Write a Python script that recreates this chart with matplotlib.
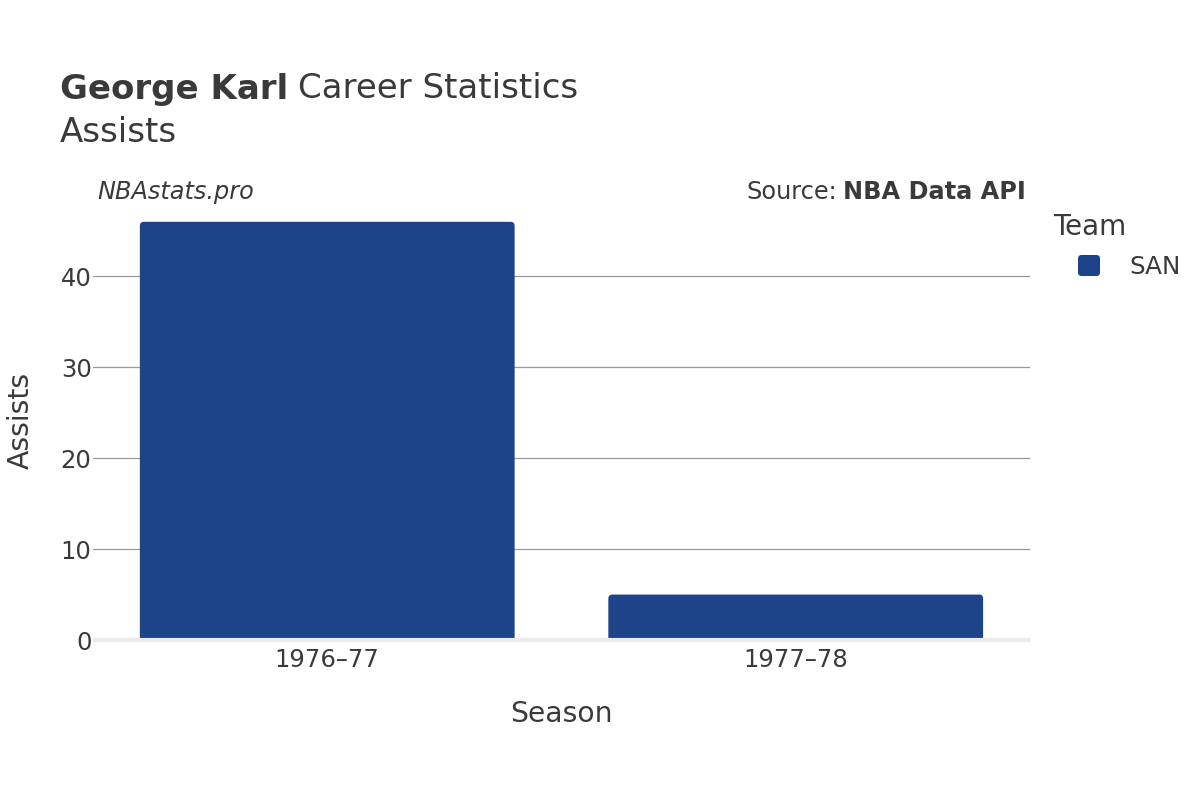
import numpy as np
import matplotlib
matplotlib.use("Agg")
import matplotlib.pyplot as plt
from matplotlib.patches import FancyBboxPatch

# data
seasons = ["1976–77", "1977–78"]
assists = [46, 5]
team = "SAN"
bar_color = "#1d4389"
text_color = "#3a3a3a"

plt.rcParams['font.family'] = ['DejaVu Sans']

fig = plt.figure(figsize=(12, 8), dpi=100)
ax = fig.add_axes([0.0775, 0.2, 0.7808, 0.55])

x = np.arange(len(seasons))
bars = ax.bar(x, assists, width=0.8, color=bar_color)
ax.set_xlim(-0.5, len(seasons) - 0.5)
ax.set_ylim(0, 48.4)

# rounded tops: swap each bar for a rounded box (bottom pushed under the axis and clipped)
fig.canvas.draw()
x0, x1 = ax.get_xlim()
y0, y1 = ax.get_ylim()
bb = ax.get_window_extent()
xpp = (x1 - x0) / bb.width
ypp = (y1 - y0) / bb.height
r_px = 4
for b in bars:
    bx, bw, bh = b.get_x(), b.get_width(), b.get_height()
    b.set_visible(False)
    p = FancyBboxPatch((bx, -r_px * ypp), bw, bh + r_px * ypp,
                       boxstyle=f"round,pad=0,rounding_size={r_px * xpp}",
                       mutation_aspect=ypp / xpp,
                       facecolor=bar_color, edgecolor="none", zorder=2)
    ax.add_patch(p)

for v in [10, 20, 30, 40]:
    ax.axhline(v, color="#999999", lw=0.9, zorder=1)
ax.axhline(0, color="#ebebeb", lw=3, zorder=3, clip_on=False, solid_capstyle="butt")

for s in ax.spines.values():
    s.set_visible(False)
ax.set_yticks([0, 10, 20, 30, 40])
ax.set_xticks(x)
ax.set_xticklabels(seasons)
ax.tick_params(axis="both", length=0, labelsize=17.5, labelcolor=text_color)
ax.tick_params(axis="y", pad=1)
ax.tick_params(axis="x", pad=6)
ax.set_xlabel("Season", fontsize=20.3, color=text_color, labelpad=20)
ax.set_ylabel("Assists", fontsize=20.3, color=text_color, labelpad=19)

# title
t1 = fig.text(60 / 1200, 1 - 89 / 800, "George Karl", fontsize=24.5, fontweight="bold",
              color=text_color, va="center", ha="left")
fig.canvas.draw()
ext = t1.get_window_extent()
fig.text(ext.x1 / 1200 + 0.008, 1 - 89 / 800, "Career Statistics", fontsize=24.5,
         color=text_color, va="center", ha="left")
fig.text(60 / 1200, 1 - 133 / 800, "Assists", fontsize=24.5, color=text_color,
         va="center", ha="left")

fig.text(97 / 1200, 1 - 192 / 800, "NBAstats.pro", fontsize=17.3, style="italic",
         color=text_color, va="center", ha="left")
t2 = fig.text(1026 / 1200, 1 - 192 / 800, "NBA Data API", fontsize=17.3, fontweight="bold",
              color=text_color, va="center", ha="right")
fig.canvas.draw()
ext2 = t2.get_window_extent()
fig.text(ext2.x0 / 1200 - 0.005, 1 - 192 / 800, "Source:", fontsize=17.3,
         color=text_color, va="center", ha="right")

# legend
fig.text(1053 / 1200, 1 - 227 / 800, "Team", fontsize=20, color=text_color,
         va="center", ha="left")
fig.patches.append(FancyBboxPatch((1078 / 1200, 1 - 276 / 800), 22 / 1200, 21 / 800,
                                  boxstyle="round,pad=0,rounding_size=0.003",
                                  mutation_aspect=1.5,
                                  transform=fig.transFigure, facecolor=bar_color,
                                  edgecolor="none"))
fig.text(1129 / 1200, 1 - 267 / 800, team, fontsize=17.7, color=text_color,
         va="center", ha="left")

fig.savefig("out.png", dpi=100)
